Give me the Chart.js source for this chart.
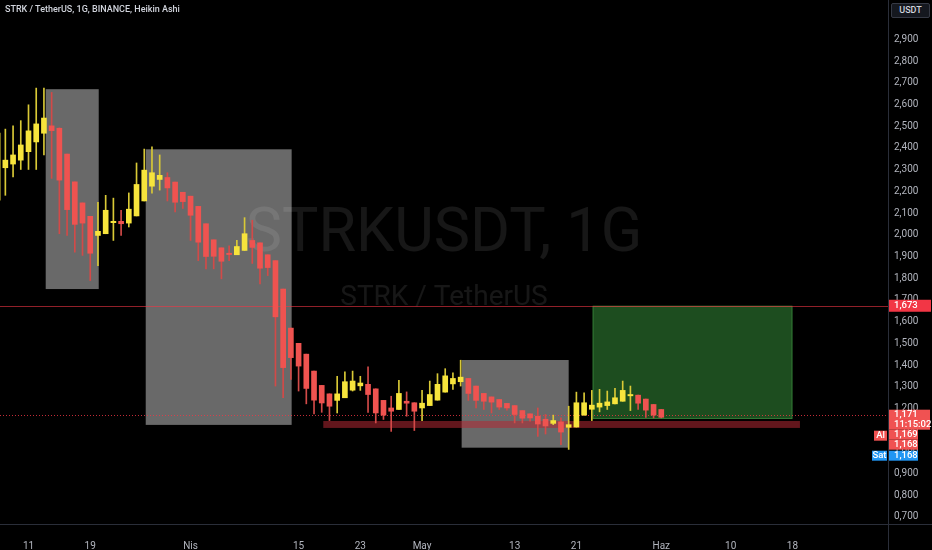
<!DOCTYPE html>
<html>
<head>
<meta charset="utf-8">
<script src="https://cdn.jsdelivr.net/npm/chart.js@4.4.1/dist/chart.umd.min.js"></script>
<style>
  html, body { margin: 0; padding: 0; background: #000; }
  #wrap { position: relative; width: 932px; height: 550px; }
  #title { position: absolute; left: 5px; top: 4px; font: 500 9px Roboto, sans-serif; color: #d1d4dc; }
  #unit { position: absolute; left: 891px; top: 3px; width: 37px; height: 13px; border: 1px solid #363a45;
          border-radius: 2px; background: #15181f; color: #d1d4dc; font: 500 9px Roboto, sans-serif;
          text-align: center; line-height: 13px; }
</style>
</head>
<body>
<div id="wrap">
  <canvas id="chart" width="932" height="550"></canvas>
  <div id="title">STRK / TetherUS, 1G, BINANCE, Heikin Ashi</div>
  <div id="unit">USDT</div>
</div>
<script>
// daily Heikin Ashi candles
const dates = [
  '2024-03-07','2024-03-08','2024-03-09','2024-03-10','2024-03-11','2024-03-12','2024-03-13','2024-03-14',
  '2024-03-15','2024-03-16','2024-03-17','2024-03-18','2024-03-19','2024-03-20','2024-03-21','2024-03-22',
  '2024-03-23','2024-03-24','2024-03-25','2024-03-26','2024-03-27','2024-03-28','2024-03-29','2024-03-30',
  '2024-03-31','2024-04-01','2024-04-02','2024-04-03','2024-04-04','2024-04-05','2024-04-06','2024-04-07',
  '2024-04-08','2024-04-09','2024-04-10','2024-04-11','2024-04-12','2024-04-13','2024-04-14','2024-04-15',
  '2024-04-16','2024-04-17','2024-04-18','2024-04-19','2024-04-20','2024-04-21','2024-04-22','2024-04-23',
  '2024-04-24','2024-04-25','2024-04-26','2024-04-27','2024-04-28','2024-04-29','2024-04-30','2024-05-01',
  '2024-05-02','2024-05-03','2024-05-04','2024-05-05','2024-05-06','2024-05-07','2024-05-08','2024-05-09',
  '2024-05-10','2024-05-11','2024-05-12','2024-05-13','2024-05-14','2024-05-15','2024-05-16','2024-05-17',
  '2024-05-18','2024-05-19','2024-05-20','2024-05-21','2024-05-22','2024-05-23','2024-05-24','2024-05-25',
  '2024-05-26','2024-05-27','2024-05-28','2024-05-29','2024-05-30','2024-05-31','2024-06-01'
];
const open = [
  2.159, 2.309, 2.326, 2.344, 2.383, 2.428, 2.468, 2.502, 2.491, 2.372, 2.244, 2.147, 2.085, 1.997, 2.005, 2.056,
  2.062, 2.054, 2.087, 2.156, 2.224, 2.255, 2.264, 2.243, 2.196, 2.178, 2.131, 2.051, 1.977, 1.940, 1.915, 1.908,
  1.928, 1.974, 1.963, 1.908, 1.881, 1.750, 1.570, 1.500, 1.450, 1.372, 1.306, 1.267, 1.237, 1.249, 1.284, 1.304,
  1.311, 1.290, 1.237, 1.202, 1.195, 1.233, 1.226, 1.202, 1.213, 1.238, 1.275, 1.313, 1.323, 1.338, 1.303, 1.269,
  1.253, 1.241, 1.223, 1.213, 1.190, 1.175, 1.164, 1.150, 1.131, 1.138, 1.113, 1.114, 1.169, 1.196, 1.206, 1.213,
  1.221, 1.233, 1.258, 1.261, 1.243, 1.218, 1.195
];
const high = [
  2.506, 2.487, 2.502, 2.526, 2.599, 2.676, 2.676, 2.656, 2.493, 2.372, 2.244, 2.147, 2.085, 2.150, 2.182, 2.169,
  2.113, 2.193, 2.331, 2.395, 2.405, 2.368, 2.286, 2.243, 2.196, 2.178, 2.131, 2.051, 1.977, 1.940, 1.949, 1.974,
  2.079, 2.067, 1.963, 1.908, 1.881, 1.750, 1.570, 1.500, 1.450, 1.372, 1.306, 1.267, 1.348, 1.369, 1.372, 1.348,
  1.391, 1.290, 1.237, 1.256, 1.329, 1.276, 1.226, 1.283, 1.326, 1.360, 1.383, 1.364, 1.422, 1.338, 1.303, 1.269,
  1.253, 1.241, 1.223, 1.213, 1.190, 1.175, 1.202, 1.172, 1.169, 1.156, 1.210, 1.275, 1.272, 1.283, 1.288, 1.280,
  1.292, 1.326, 1.303, 1.261, 1.243, 1.218, 1.195
];
const low = [
  2.136, 2.182, 2.267, 2.301, 2.301, 2.301, 2.368, 2.260, 2.005, 1.997, 1.920, 1.905, 1.789, 1.858, 2.005, 1.974,
  1.997, 2.036, 2.087, 2.156, 2.192, 2.206, 2.156, 2.105, 2.121, 1.974, 1.881, 1.843, 1.843, 1.797, 1.881, 1.908,
  1.928, 1.868, 1.774, 1.812, 1.303, 1.249, 1.334, 1.280, 1.221, 1.175, 1.182, 1.144, 1.179, 1.249, 1.280, 1.283,
  1.182, 1.133, 1.149, 1.094, 1.195, 1.164, 1.098, 1.144, 1.213, 1.238, 1.275, 1.288, 1.303, 1.237, 1.202, 1.195,
  1.179, 1.195, 1.192, 1.133, 1.133, 1.141, 1.071, 1.082, 1.125, 1.033, 1.011, 1.114, 1.169, 1.144, 1.184, 1.195,
  1.221, 1.233, 1.190, 1.195, 1.159, 1.156, 1.156
];
const close = [
  2.469, 2.344, 2.368, 2.414, 2.479, 2.511, 2.538, 2.480, 2.252, 2.116, 2.048, 2.054, 1.915, 2.016, 2.113, 2.062,
  2.051, 2.118, 2.232, 2.298, 2.286, 2.274, 2.216, 2.150, 2.153, 2.090, 1.966, 1.900, 1.901, 1.878, 1.909, 1.946,
  2.005, 1.942, 1.846, 1.849, 1.622, 1.388, 1.434, 1.395, 1.292, 1.238, 1.225, 1.210, 1.267, 1.323, 1.326, 1.317,
  1.264, 1.179, 1.169, 1.187, 1.269, 1.224, 1.187, 1.224, 1.264, 1.311, 1.350, 1.338, 1.344, 1.269, 1.237, 1.233,
  1.229, 1.206, 1.202, 1.172, 1.155, 1.156, 1.128, 1.119, 1.144, 1.091, 1.125, 1.226, 1.226, 1.215, 1.224, 1.230,
  1.249, 1.283, 1.264, 1.224, 1.192, 1.169, 1.159
];

// bottom axis
const tickDates = ['2024-03-11','2024-03-19','2024-04-01','2024-04-15','2024-04-23','2024-05-01',
                   '2024-05-13','2024-05-21','2024-06-01','2024-06-10','2024-06-18'];
const tickLabels = ['11', '19', 'Nis', '15', '23', 'May', '13', '21', 'Haz', '10', '18'];

// drawings: [from day, to day, low price, high price], days counted from 11 Mar
const grayBoxes = [[2.23, 9.1, 1.750, 2.671], [15.19, 34.1, 1.124, 2.394], [56.13, 70.0, 1.019, 1.423]];
const targetBox = [73.1, 99.0, 1.151, 1.673];
const supportBand = [38.2, 99.97, 1.110, 1.142];
const targetPrice = 1.673;
const lastPrice = 1.171;
const priceTags = ['1,673', '1,171', '11:15:02', '1,169', '1,168', '1,168'];

const YELLOW = '#f7e43c';
const RED = '#ef5350';

const dayZero = Date.parse('2024-03-11');
function dayOf(d) {
  return (Date.parse(d) - dayZero) / 86400000;
}

Chart.defaults.font.family = 'Roboto';

const xs = dates.map(dayOf);
const up = dates.map((d, i) => close[i] >= open[i]);

const background = {
  id: 'background',
  beforeDraw(chart) {
    const c = chart.ctx;
    c.save();
    c.fillStyle = '#000';
    c.fillRect(0, 0, chart.width, chart.height);
    c.restore();
  }
};

const drawings = {
  id: 'drawings',
  beforeDatasetsDraw(chart) {
    const { ctx: c, chartArea: a, scales: { x, y } } = chart;
    const rect = (b, fill) => {
      const x1 = x.getPixelForValue(b[0]), x2 = x.getPixelForValue(b[1]);
      const y1 = y.getPixelForValue(b[3]), y2 = y.getPixelForValue(b[2]);
      c.fillStyle = fill;
      c.fillRect(x1, y1, x2 - x1, y2 - y1);
      return [x1, y1, x2 - x1, y2 - y1];
    };
    c.save();
    c.beginPath();
    c.rect(a.left, a.top, a.right - a.left, a.bottom - a.top);
    c.clip();

    grayBoxes.forEach(b => rect(b, 'rgba(128,128,128,0.82)'));
    const g = rect(targetBox, 'rgba(46,125,50,0.62)');
    c.strokeStyle = 'rgba(76,175,80,0.45)';
    c.lineWidth = 1;
    c.strokeRect(g[0] + 0.5, g[1] + 0.5, g[2] - 1, g[3] - 1);
    rect(supportBand, 'rgba(178,40,51,0.55)');

    // watermark
    const cx = (a.left + a.right) / 2;
    c.fillStyle = 'rgba(255,255,255,0.09)';
    c.textAlign = 'center';
    c.textBaseline = 'middle';
    c.font = '61px Roboto';
    c.fillText('STRKUSDT, 1G', cx, 236);
    c.font = '28px Roboto';
    c.fillText('STRK / TetherUS', cx, 298);

    // price lines
    const yt = Math.round(y.getPixelForValue(targetPrice)) + 0.5;
    c.strokeStyle = 'rgba(242,54,69,0.6)';
    c.beginPath();
    c.moveTo(a.left, yt);
    c.lineTo(a.right, yt);
    c.stroke();
    const yl = Math.round(y.getPixelForValue(lastPrice)) + 0.5;
    c.setLineDash([1, 2]);
    c.strokeStyle = 'rgba(242,54,69,0.8)';
    c.beginPath();
    c.moveTo(a.left, yl);
    c.lineTo(a.right, yl);
    c.stroke();
    c.restore();
  }
};

const tags = {
  id: 'tags',
  afterDraw(chart) {
    const { ctx: c, chartArea: a, scales: { y } } = chart;
    c.save();
    // panel separators
    c.strokeStyle = '#2a2e39';
    c.lineWidth = 1;
    c.beginPath();
    c.moveTo(a.right + 0.5, 0);
    c.lineTo(a.right + 0.5, chart.height);
    c.moveTo(0, a.bottom + 0.5);
    c.lineTo(chart.width, a.bottom + 0.5);
    c.stroke();

    c.font = '500 9.5px Roboto';
    c.textBaseline = 'middle';
    const box = (x1, y1, w, h, fill, text, tx, ty, align) => {
      c.fillStyle = fill;
      c.fillRect(x1, y1, w, h);
      c.fillStyle = '#fff';
      c.textAlign = align || 'left';
      c.fillText(text, tx, ty);
    };
    const L = a.right + 1;
    const yt = y.getPixelForValue(targetPrice);
    box(L, yt - 6, 42, 12, '#f23645', priceTags[0], L + 5, yt);

    const yp = y.getPixelForValue(lastPrice);
    box(L, yp - 5, 41, 20, '#f05252', priceTags[1], L + 5, yp);
    c.fillText(priceTags[2], L + 5, yp + 9.5);
    box(L, yp + 15, 29, 10, '#f05252', priceTags[3], L + 5, yp + 20);
    box(L, yp + 25, 29, 10, '#f05252', priceTags[4], L + 5, yp + 30);
    box(L, yp + 36, 29, 10, '#2196f3', priceTags[5], L + 5, yp + 41);
    box(L - 15, yp + 16, 13, 10, '#f05252', 'Al', L - 8.5, yp + 21, 'center');
    box(L - 17, yp + 36, 15, 10, '#2196f3', 'Sat', L - 9.5, yp + 41, 'center');
    c.restore();
  }
};

const ctx = document.getElementById('chart').getContext('2d');
new Chart(ctx, {
  type: 'bar',
  data: {
    datasets: [
      {
        label: 'body',
        data: xs.map((x, i) => ({ x: x, y: [Math.min(open[i], close[i]), Math.max(open[i], close[i])] })),
        backgroundColor: up.map(u => u ? YELLOW : RED),
        barThickness: 5,
        minBarLength: 1,
        grouped: false
      },
      {
        label: 'wick',
        data: xs.map((x, i) => ({ x: x, y: [low[i], high[i]] })),
        backgroundColor: up.map(u => u ? '#d9c936' : '#d24a48'),
        barThickness: 1,
        grouped: false
      }
    ]
  },
  options: {
    responsive: false,
    animation: false,
    layout: { padding: 0 },
    plugins: { legend: { display: false }, tooltip: { enabled: false } },
    scales: {
      x: {
        type: 'linear',
        min: -3.693,
        max: 111.38,
        offset: false,
        grid: { display: false },
        border: { display: false },
        afterBuildTicks: s => { s.ticks = tickDates.map(d => ({ value: dayOf(d) })); },
        afterFit: s => { s.height = 26; s.paddingLeft = 0; s.paddingRight = 0; },
        ticks: {
          autoSkip: false, maxRotation: 0, color: '#b2b5be', font: { size: 10 }, padding: 8,
          callback: (v, i) => tickLabels[i]
        }
      },
      y: {
        position: 'right',
        min: 0.6673,
        max: 3.082,
        grid: { display: false, drawTicks: false },
        border: { display: false },
        afterFit: s => { s.width = 44; s.paddingTop = 0; s.paddingBottom = 0; },
        ticks: {
          stepSize: 0.1, includeBounds: false, autoSkip: false, color: '#b2b5be', font: { size: 10 }, padding: 6,
          callback: v => v > 2.95 ? '' : v.toFixed(3).replace('.', ',')
        }
      }
    }
  },
  plugins: [background, drawings, tags]
});
</script>
</body>
</html>
